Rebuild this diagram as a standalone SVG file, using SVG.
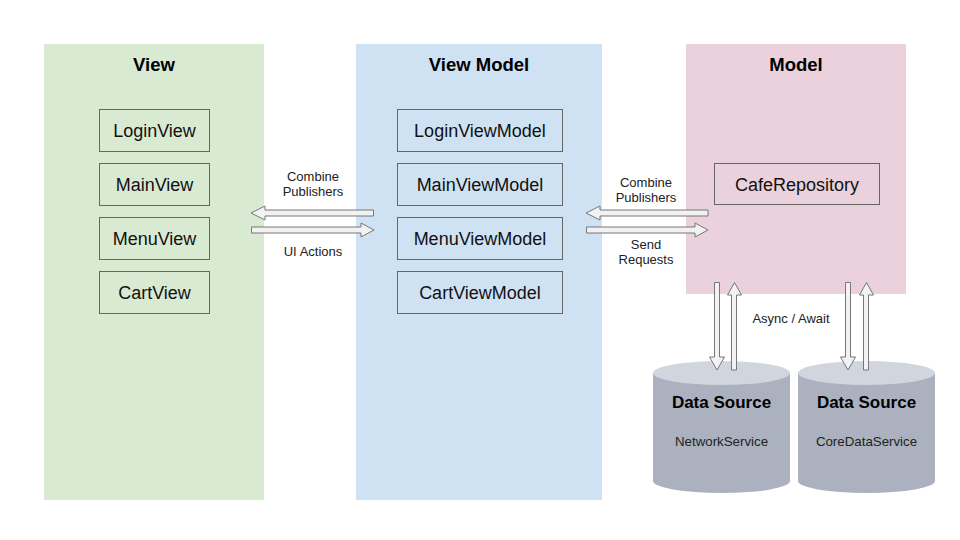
<svg xmlns="http://www.w3.org/2000/svg" width="960" height="540" viewBox="0 0 960 540">
<style>
.title{font-family:"Liberation Sans",Arial,sans-serif;font-size:18.5px;font-weight:bold;fill:#000;text-anchor:middle}
.box{stroke:#666;stroke-width:1;fill:none}
.bt{font-family:"Liberation Sans",Arial,sans-serif;font-size:18px;fill:#111;text-anchor:middle}
.lbl{font-family:"Liberation Sans",Arial,sans-serif;font-size:13px;fill:#222;text-anchor:middle}
.arr{fill:#f2f2f2;stroke:#777;stroke-width:1}
.cylb{fill:#abb1bf}
.cylt{fill:#d1d5dd}
.ds{font-family:"Liberation Sans",Arial,sans-serif;font-size:17px;font-weight:bold;fill:#000;text-anchor:middle}
.svc{font-family:"Liberation Sans",Arial,sans-serif;font-size:13.3px;fill:#222;text-anchor:middle}
</style>
<rect width="960" height="540" fill="#fff"/>
<g id="view-panel">
<rect x="44" y="44" width="220" height="456" fill="#d9ead3"/>
<text class="title" x="154" y="70.5">View</text>
</g>
<g id="viewmodel-panel">
<rect x="356" y="44" width="246" height="456" fill="#cfe2f3"/>
<text class="title" x="479" y="70.5">View Model</text>
</g>
<g id="model-panel">
<rect x="686" y="44" width="220" height="250" fill="#ead1dc"/>
<text class="title" x="796" y="70.5">Model</text>
</g>
<g id="loginview"><rect class="box" x="99.5" y="109.5" width="110" height="42"/><text class="bt" x="154.5" y="137">LoginView</text></g>
<g id="mainview"><rect class="box" x="99.5" y="163.5" width="110" height="42"/><text class="bt" x="154.5" y="191">MainView</text></g>
<g id="menuview"><rect class="box" x="99.5" y="217.5" width="110" height="42"/><text class="bt" x="154.5" y="245">MenuView</text></g>
<g id="cartview"><rect class="box" x="99.5" y="271.5" width="110" height="42"/><text class="bt" x="154.5" y="299">CartView</text></g>
<g id="loginviewmodel"><rect class="box" x="397.5" y="109.5" width="165" height="42"/><text class="bt" x="480" y="137">LoginViewModel</text></g>
<g id="mainviewmodel"><rect class="box" x="397.5" y="163.5" width="165" height="42"/><text class="bt" x="480" y="191">MainViewModel</text></g>
<g id="menuviewmodel"><rect class="box" x="397.5" y="217.5" width="165" height="42"/><text class="bt" x="480" y="245">MenuViewModel</text></g>
<g id="cartviewmodel"><rect class="box" x="397.5" y="271.5" width="165" height="42"/><text class="bt" x="480" y="299">CartViewModel</text></g>
<g id="caferepository"><rect class="box" x="714.5" y="163.5" width="165" height="41"/><text class="bt" x="797" y="190.5">CafeRepository</text></g>
<g id="networkservice">
<path class="cylb" d="M653,373 V481 A68.5,12 0 0 0 790,481 V373 Z"/>
<ellipse class="cylt" cx="721.5" cy="373" rx="68.5" ry="12"/>
<text class="ds" x="721.5" y="407.5">Data Source</text>
<text class="svc" x="721.5" y="446">NetworkService</text>
</g>
<g id="coredataservice">
<path class="cylb" d="M798,373 V481 A68.5,12 0 0 0 935,481 V373 Z"/>
<ellipse class="cylt" cx="866.5" cy="373" rx="68.5" ry="12"/>
<text class="ds" x="866.5" y="407.5">Data Source</text>
<text class="svc" x="866.5" y="446">CoreDataService</text>
</g>
<g id="connectors">
<polygon class="arr" points="373.5,210 265,210 265,206 251,213 265,220 265,216 373.5,216"/>
<polygon class="arr" points="251.5,227 361,227 361,223 374,230 361,237 361,233 251.5,233"/>
<text class="lbl" x="313" y="180.5">Combine</text>
<text class="lbl" x="313" y="195.5">Publishers</text>
<text class="lbl" x="313" y="256">UI Actions</text>
<polygon class="arr" points="708,210 600,210 600,206 586,213 600,220 600,216 708,216"/>
<polygon class="arr" points="586.5,227 695,227 695,223 708,230 695,237 695,233 586.5,233"/>
<text class="lbl" x="646" y="186.5">Combine</text>
<text class="lbl" x="646" y="201.5">Publishers</text>
<text class="lbl" x="646" y="248.5">Send</text>
<text class="lbl" x="646" y="263.5">Requests</text>
<polygon class="arr" points="714.5,282.5 714.5,357 709.5,357 717,370 724.5,357 719.5,357 719.5,282.5"/>
<polygon class="arr" points="731.5,370 731.5,295 727.5,295 734.5,282.5 741.5,295 736.5,295 736.5,370"/>
<polygon class="arr" points="845.5,282.5 845.5,357 840.5,357 848,370 855.5,357 850.5,357 850.5,282.5"/>
<polygon class="arr" points="863.5,370 863.5,295 859.5,295 866.5,282.5 873.5,295 868.5,295 868.5,370"/>
<text class="lbl" x="791" y="323">Async / Await</text>
</g>
</svg>
